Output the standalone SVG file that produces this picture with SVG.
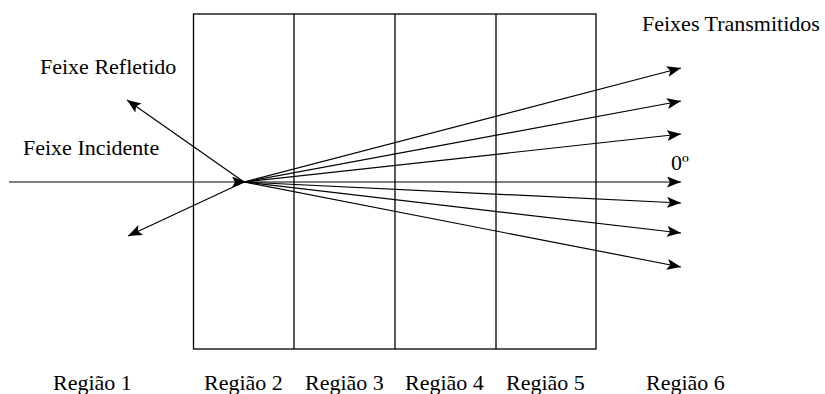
<svg xmlns="http://www.w3.org/2000/svg" width="825" height="394" viewBox="0 0 825 394">
<style>
text{font-family:"Liberation Serif","Times New Roman",serif;font-size:22px;fill:#000}
.ln{stroke:#000;stroke-width:1.2;fill:none}
.ar{marker-end:url(#ah)}
.box{stroke:#000;stroke-width:1.3;fill:none}
</style>
<defs>
<marker id="ah" markerUnits="userSpaceOnUse" markerWidth="16" markerHeight="12" refX="14" refY="5.5" orient="auto">
<path d="M0,0 L14,5.5 L0,11 L3,5.5 z" fill="#000"/>
</marker>
</defs>
<g id="regions">
<rect class="box" x="193.5" y="14" width="402.5" height="335"/>
<line class="box" x1="294" y1="14" x2="294" y2="349"/>
<line class="box" x1="395" y1="14" x2="395" y2="349"/>
<line class="box" x1="496" y1="14" x2="496" y2="349"/>
</g>
<g id="connectors">
<line class="ln ar" x1="9" y1="182" x2="246" y2="182"/>
<line class="ln ar" x1="244" y1="182" x2="681" y2="182"/>
<line class="ln ar" x1="244" y1="182" x2="127" y2="100"/>
<line class="ln ar" x1="244" y1="182" x2="128" y2="236"/>
<line class="ln ar" x1="244" y1="182" x2="681" y2="68"/>
<line class="ln ar" x1="244" y1="182" x2="681" y2="101"/>
<line class="ln ar" x1="244" y1="182" x2="681" y2="134"/>
<line class="ln ar" x1="244" y1="182" x2="681" y2="203"/>
<line class="ln ar" x1="244" y1="182" x2="681" y2="233"/>
<line class="ln ar" x1="244" y1="182" x2="681" y2="267"/>
</g>
<g id="labels" font-family="'Liberation Serif', 'Times New Roman', serif">
<text x="642" y="31">Feixes Transmitidos</text>
<text x="40" y="74">Feixe Refletido</text>
<text x="23" y="155">Feixe Incidente</text>
<text x="671" y="170">0º</text>
<text x="53" y="390">Região 1</text>
<text x="204" y="390">Região 2</text>
<text x="305" y="390">Região 3</text>
<text x="405" y="390">Região 4</text>
<text x="506" y="390">Região 5</text>
<text x="646" y="390">Região 6</text>
</g>
</svg>
